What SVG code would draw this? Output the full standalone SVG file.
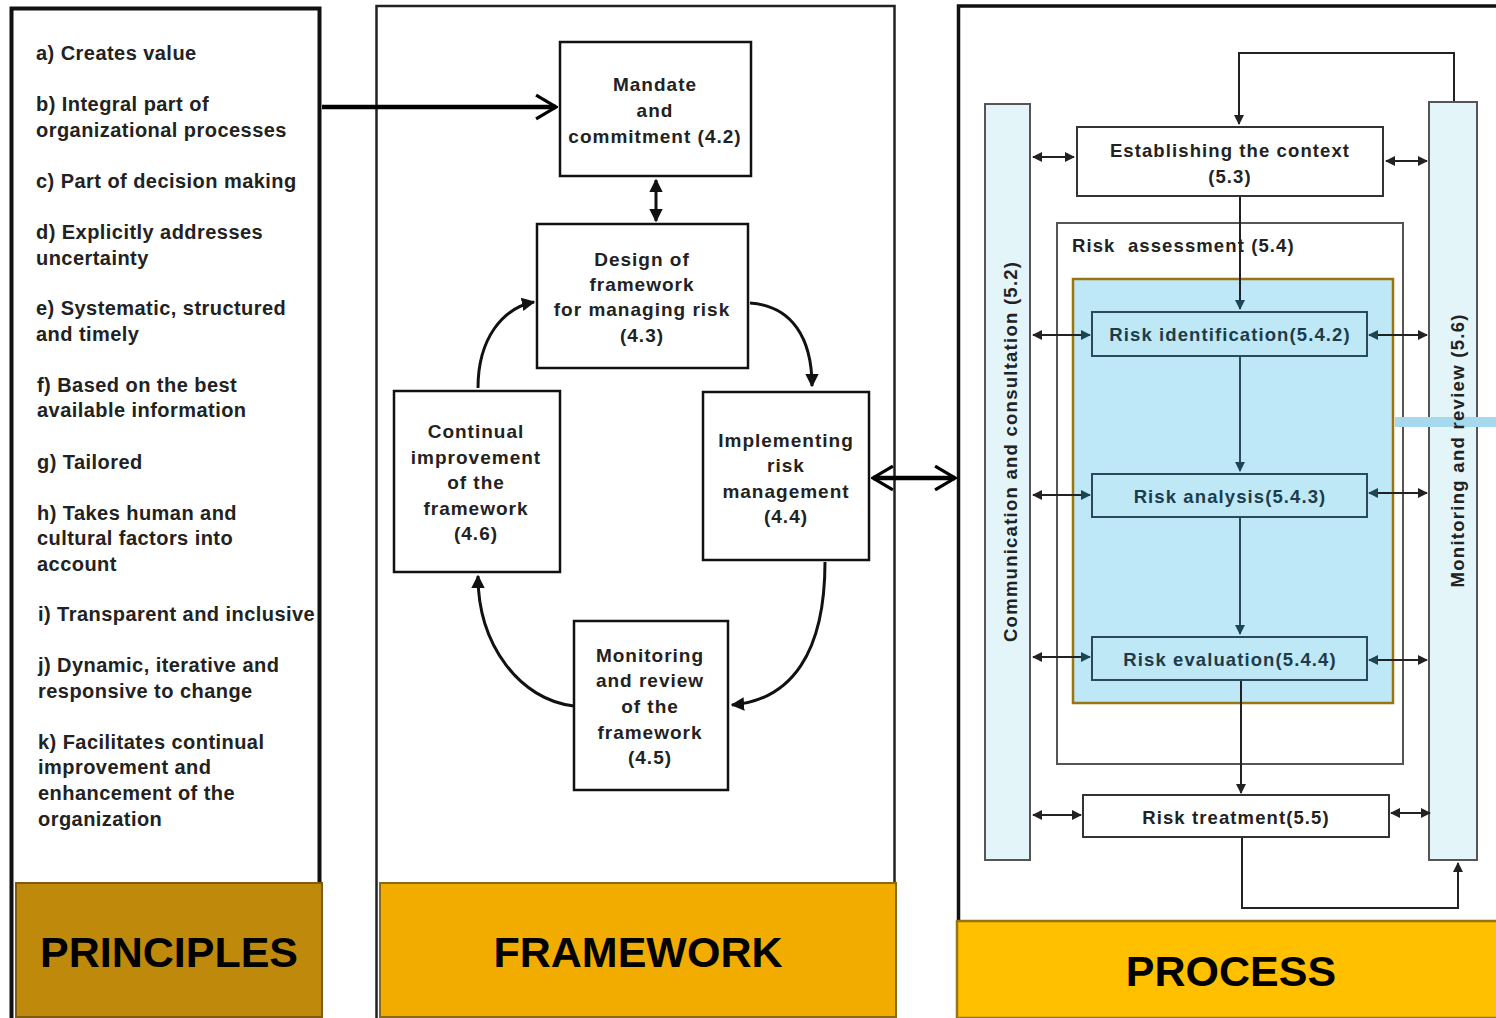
<svg xmlns="http://www.w3.org/2000/svg" width="1496" height="1018" viewBox="0 0 1496 1018">
<style>
.t{font-family:"Liberation Sans",Arial,sans-serif;font-weight:bold;fill:#222;}
.p{font-size:20px;letter-spacing:0.45px;}
.f{font-size:19px;letter-spacing:1px;text-anchor:middle;}
.r{font-size:18.5px;text-anchor:middle;letter-spacing:1.1px;}
.rb{fill:#1c3c4c;}
.big{font-size:43px;text-anchor:middle;fill:#000;}
.box{fill:#fff;stroke:#111;stroke-width:2.5;}
.pbox{fill:#fff;stroke:#333;stroke-width:2;}
.bbox{fill:#bfe8f6;stroke:#2a4a5a;stroke-width:2;}
.bar{fill:#e4f5f9;stroke:#555;stroke-width:2;}
.ln{fill:none;stroke:#222;stroke-width:2;}
.cv{fill:none;stroke:#111;stroke-width:3;}
.th{fill:none;stroke:#000;stroke-width:4.5;}
</style>
<defs>
<marker id="ah" viewBox="0 0 10 10" refX="9" refY="5" markerWidth="5" markerHeight="5" orient="auto-start-reverse"><path d="M0,0 L10,5 L0,10 z" fill="#222"/></marker>
<marker id="ahb" viewBox="0 0 10 10" refX="9" refY="5" markerWidth="5" markerHeight="5" orient="auto-start-reverse"><path d="M0,0 L10,5 L0,10 z" fill="#1c4656"/></marker>
<marker id="ahc" viewBox="0 0 10 10" refX="9" refY="5" markerWidth="4.5" markerHeight="4.5" orient="auto-start-reverse"><path d="M0,0 L10,5 L0,10 z" fill="#111"/></marker>
<marker id="chev" viewBox="0 0 12 14" refX="11" refY="7" markerWidth="5.5" markerHeight="6.2" orient="auto-start-reverse"><path d="M1,1 L11,7 L1,13" fill="none" stroke="#000" stroke-width="1.6"/></marker>
</defs>

<!-- panels -->
<g id="principles-panel">
<rect x="11.5" y="8.5" width="308" height="1015" fill="#fff" stroke="#111" stroke-width="4"/>
</g>
<g id="framework-panel">
<rect x="376.5" y="6" width="518" height="1020" fill="#fff" stroke="#222" stroke-width="2.5"/>
</g>
<g id="process-panel">
<path d="M958.5,1018 L958.5,6 L1496,6" fill="none" stroke="#111" stroke-width="3.5"/>
</g>

<!-- principles list -->
<g id="principles-list" class="t p">
<text x="36" y="60">a) Creates value</text>
<text x="36" y="111">b) Integral part of</text>
<text x="36" y="137">organizational processes</text>
<text x="36" y="188">c) Part of decision making</text>
<text x="36" y="239">d) Explicitly addresses</text>
<text x="36" y="265">uncertainty</text>
<text x="36" y="315">e) Systematic, structured</text>
<text x="36" y="341">and timely</text>
<text x="37" y="392">f) Based on the best</text>
<text x="37" y="417">available information</text>
<text x="37" y="469">g) Tailored</text>
<text x="37" y="520">h) Takes human and</text>
<text x="37" y="545">cultural factors into</text>
<text x="37" y="571">account</text>
<text x="38" y="621">i) Transparent and inclusive</text>
<text x="38" y="672">j) Dynamic, iterative and</text>
<text x="38" y="698">responsive to change</text>
<text x="38" y="749">k) Facilitates continual</text>
<text x="38" y="774">improvement and</text>
<text x="38" y="800">enhancement of the</text>
<text x="38" y="826">organization</text>
</g>

<!-- framework nodes -->
<g id="mandate">
<rect class="box" x="560" y="42" width="191" height="134"/>
<text class="t f" x="655" y="91">Mandate</text>
<text class="t f" x="655" y="117">and</text>
<text class="t f" x="655" y="143">commitment (4.2)</text>
</g>
<g id="design">
<rect class="box" x="537" y="224" width="211" height="144"/>
<text class="t f" x="642" y="266">Design of</text>
<text class="t f" x="642" y="291">framework</text>
<text class="t f" x="642" y="316">for managing risk</text>
<text class="t f" x="642" y="342">(4.3)</text>
</g>
<g id="implementing">
<rect class="box" x="703" y="392" width="166" height="168"/>
<text class="t f" x="786" y="447">Implementing</text>
<text class="t f" x="786" y="472">risk</text>
<text class="t f" x="786" y="498">management</text>
<text class="t f" x="786" y="523">(4.4)</text>
</g>
<g id="monitoring-framework">
<rect class="box" x="574" y="621" width="154" height="169"/>
<text class="t f" x="650" y="662">Monitoring</text>
<text class="t f" x="650" y="687">and review</text>
<text class="t f" x="650" y="713">of the</text>
<text class="t f" x="650" y="739">framework</text>
<text class="t f" x="650" y="764">(4.5)</text>
</g>
<g id="continual">
<rect class="box" x="394" y="391" width="166" height="181"/>
<text class="t f" x="476" y="438">Continual</text>
<text class="t f" x="476" y="464">improvement</text>
<text class="t f" x="476" y="489">of the</text>
<text class="t f" x="476" y="515">framework</text>
<text class="t f" x="476" y="540">(4.6)</text>
</g>

<!-- process nodes -->
<g id="risk-assessment">
<rect x="1057" y="223" width="346" height="541" fill="#fff" stroke="#555" stroke-width="2"/>
<text class="t" x="1072" y="252" style="font-size:18.5px;letter-spacing:1.1px" xml:space="preserve">Risk  assessment (5.4)</text>
</g>
<g id="highlight">
<rect x="1073" y="279" width="320" height="424" fill="#bee8f7" stroke="#9a7412" stroke-width="2.5"/>
</g>
<g id="comm-bar">
<rect class="bar" x="985" y="104" width="45" height="756"/>
<text class="t" transform="translate(1017,452) rotate(-90)" style="font-size:18.5px;text-anchor:middle" textLength="380" lengthAdjust="spacing">Communication and consultation (5.2)</text>
</g>
<g id="monitor-bar">
<rect class="bar" x="1429" y="102" width="48" height="758"/>
<rect x="1395" y="417" width="101" height="10" fill="#a6d8ee"/>
<text class="t" transform="translate(1464,451) rotate(-90)" style="font-size:18.5px;text-anchor:middle" textLength="273" lengthAdjust="spacing">Monitoring and review (5.6)</text>
</g>
<g id="context">
<rect class="pbox" x="1077" y="127" width="306" height="69"/>
<text class="t r" x="1230" y="157">Establishing the context</text>
<text class="t r" x="1230" y="183">(5.3)</text>
</g>
<g id="identification">
<rect class="bbox" x="1092" y="312" width="275" height="44"/>
<text class="t r rb" x="1230" y="341">Risk identification(5.4.2)</text>
</g>
<g id="analysis">
<rect class="bbox" x="1092" y="474" width="275" height="43"/>
<text class="t r rb" x="1230" y="503">Risk analysis(5.4.3)</text>
</g>
<g id="evaluation">
<rect class="bbox" x="1092" y="637" width="275" height="43"/>
<text class="t r rb" x="1230" y="666">Risk evaluation(5.4.4)</text>
</g>
<g id="treatment">
<rect class="pbox" x="1083" y="795" width="306" height="42"/>
<text class="t r" x="1236" y="824">Risk treatment(5.5)</text>
</g>

<!-- labels -->
<g id="principles-label">
<rect x="16" y="883" width="306" height="134" fill="#bf8a0c" stroke="#7d5c10" stroke-width="2"/>
<text class="t big" x="169" y="967">PRINCIPLES</text>
</g>
<g id="framework-label">
<rect x="380" y="883" width="516" height="134" fill="#f2ac00" stroke="#8a6a14" stroke-width="2"/>
<text class="t big" x="638" y="967">FRAMEWORK</text>
</g>
<g id="process-label">
<rect x="957" y="921" width="541" height="97" fill="#ffc000" stroke="#9a7412" stroke-width="2.5"/>
<text class="t big" x="1231" y="986">PROCESS</text>
</g>

<!-- connectors -->
<g id="connectors">
<line class="th" x1="322" y1="107" x2="556" y2="107" marker-end="url(#chev)"/>
<line class="th" x1="873" y1="478" x2="955" y2="478" marker-start="url(#chev)" marker-end="url(#chev)"/>
<line class="cv" x1="656" y1="180" x2="656" y2="221" marker-start="url(#ahc)" marker-end="url(#ahc)"/>
<path class="cv" d="M750,303 C792,306 812,338 812,386" marker-end="url(#ahc)"/>
<path class="cv" d="M478,388 C478,338 503,308 534,302" marker-end="url(#ahc)"/>
<path class="cv" d="M825,562 C825,652 792,700 732,705" marker-end="url(#ahc)"/>
<path class="cv" d="M574,706 C520,700 478,645 478,576" marker-end="url(#ahc)"/>

<path class="ln" d="M1454,101 L1454,53 L1239,53 L1239,124" marker-end="url(#ah)"/>
<line class="ln" x1="1240" y1="197" x2="1240" y2="309" marker-end="url(#ahb)"/>
<line class="ln" x1="1240" y1="357" x2="1240" y2="471" style="stroke:#2a4a5a" marker-end="url(#ahb)"/>
<line class="ln" x1="1240" y1="518" x2="1240" y2="634" style="stroke:#2a4a5a" marker-end="url(#ahb)"/>
<line class="ln" x1="1241" y1="681" x2="1241" y2="793" marker-end="url(#ah)"/>
<path class="ln" d="M1242,838 L1242,908 L1458,908 L1458,863" marker-end="url(#ah)"/>

<line class="ln" x1="1033" y1="157" x2="1074" y2="157" marker-start="url(#ah)" marker-end="url(#ah)"/>
<line class="ln" x1="1386" y1="161" x2="1427" y2="161" marker-start="url(#ah)" marker-end="url(#ah)"/>
<line class="ln" x1="1033" y1="335" x2="1090" y2="335" marker-start="url(#ah)" marker-end="url(#ahb)"/>
<line class="ln" x1="1369" y1="335" x2="1427" y2="335" marker-start="url(#ahb)" marker-end="url(#ah)"/>
<line class="ln" x1="1033" y1="495" x2="1090" y2="495" marker-start="url(#ah)" marker-end="url(#ahb)"/>
<line class="ln" x1="1369" y1="493" x2="1427" y2="493" marker-start="url(#ahb)" marker-end="url(#ah)"/>
<line class="ln" x1="1033" y1="657" x2="1090" y2="657" marker-start="url(#ah)" marker-end="url(#ahb)"/>
<line class="ln" x1="1369" y1="660" x2="1427" y2="660" marker-start="url(#ahb)" marker-end="url(#ah)"/>
<line class="ln" x1="1033" y1="815" x2="1081" y2="815" marker-start="url(#ah)" marker-end="url(#ah)"/>
<line class="ln" x1="1391" y1="813" x2="1430" y2="813" marker-start="url(#ah)" marker-end="url(#ah)"/>
</g>
</svg>
